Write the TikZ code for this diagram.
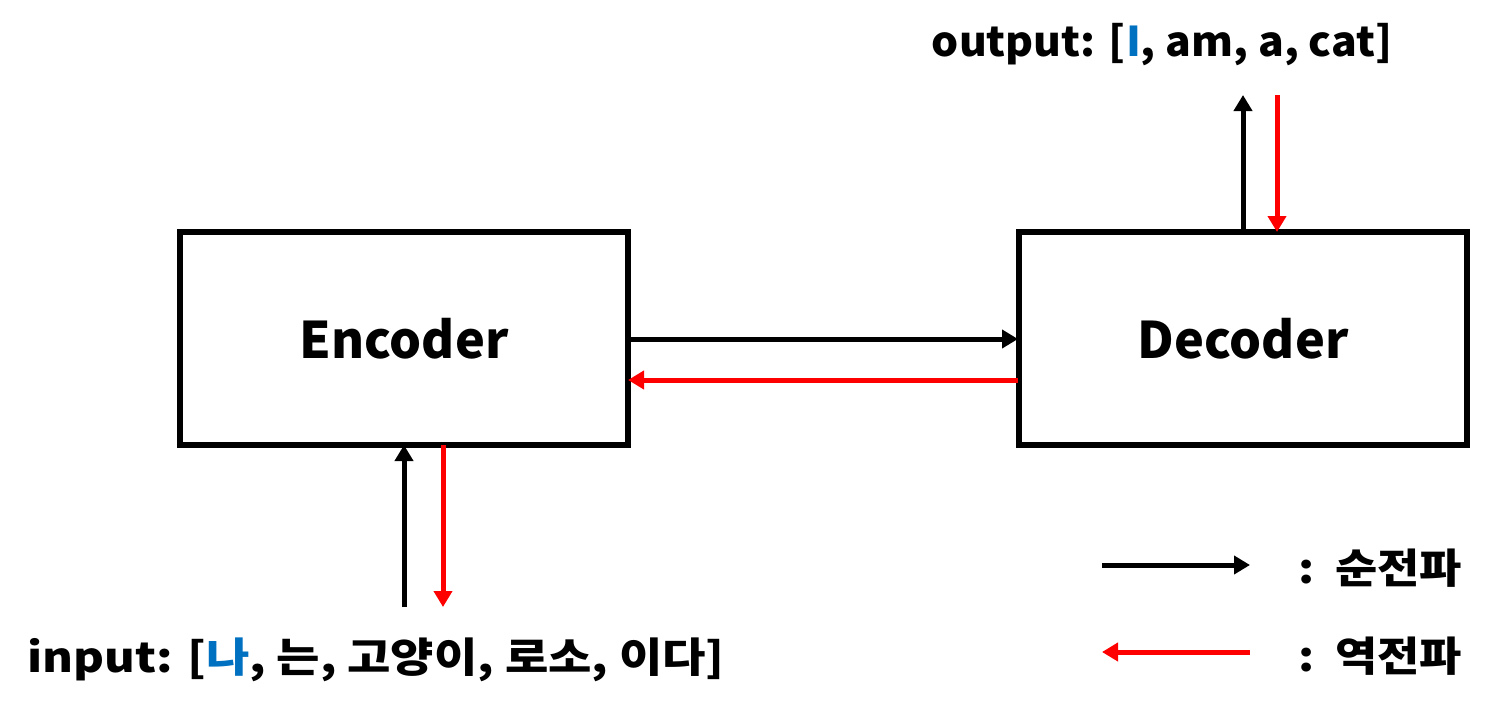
\documentclass[tikz,border=0pt]{standalone}
\usepackage{fontspec}
\setmainfont{Noto Sans CJK KR}
\usetikzlibrary{arrows.meta}
\definecolor{hlblue}{RGB}{0,112,192}
\definecolor{bwred}{RGB}{255,0,0}
\begin{document}
\begin{tikzpicture}[x=0.5pt,y=-0.5pt,
  box/.style={draw,line width=2.6pt,minimum width=224pt,minimum height=106.5pt,inner sep=0pt,font=\fontsize{25.2}{30}\selectfont\bfseries},
  fwd/.style={draw=black,line width=2.5pt,-{Triangle[length=8pt,width=9pt]}},
  bwd/.style={draw=bwred,line width=2.5pt,-{Triangle[length=8pt,width=9pt]}},
  lbl/.style={font=\fontsize{20.5}{24}\selectfont\bfseries,inner sep=0pt}]
\useasboundingbox (0,0) rectangle (1499,712);
\node[box] (enc) at (404,338.5) {Encoder};
\node[box] (dec) at (1243,338.5) {Decoder};
\coordinate (e1) at (628,339);
\coordinate (d1) at (1018,339);
\coordinate (e2) at (628,380);
\coordinate (d2) at (1018,380);
\draw[fwd] (e1) -- (d1);
\draw[bwd] (d2) -- (e2);
\coordinate (ib) at (404,607);
\coordinate (it) at (404,445);
\coordinate (rb) at (443,607);
\coordinate (rt) at (443,445);
\draw[fwd] (ib) -- (it);
\draw[bwd] (rt) -- (rb);
\coordinate (ob) at (1243,232);
\coordinate (ot) at (1243,95);
\coordinate (qb) at (1277,232);
\coordinate (qt) at (1277,95);
\draw[fwd] (ob) -- (ot);
\draw[bwd] (qt) -- (qb);
\node[lbl] (out) at (1162,45) {\scalebox{1.04}[1]{output: [\textcolor{hlblue}{I}, am, a, cat]}};
\node[lbl] (in) at (376,660) {\scalebox{1.15}[1]{input: [\textcolor{hlblue}{나}, 는, 고양이, 로소, 이다]}};
\coordinate (l1a) at (1102,565);
\coordinate (l1b) at (1250,565);
\coordinate (l2a) at (1102,652);
\coordinate (l2b) at (1250,652);
\draw[fwd] (l1a) -- (l1b);
\draw[bwd] (l2b) -- (l2a);
\node[lbl,anchor=west] (leg1) at (1298,568) {\scalebox{1.12}[1]{:\hspace{0.45em}순전파}};
\node[lbl,anchor=west] (leg2) at (1298,656) {\scalebox{1.12}[1]{:\hspace{0.45em}역전파}};
\end{tikzpicture}
\end{document}
